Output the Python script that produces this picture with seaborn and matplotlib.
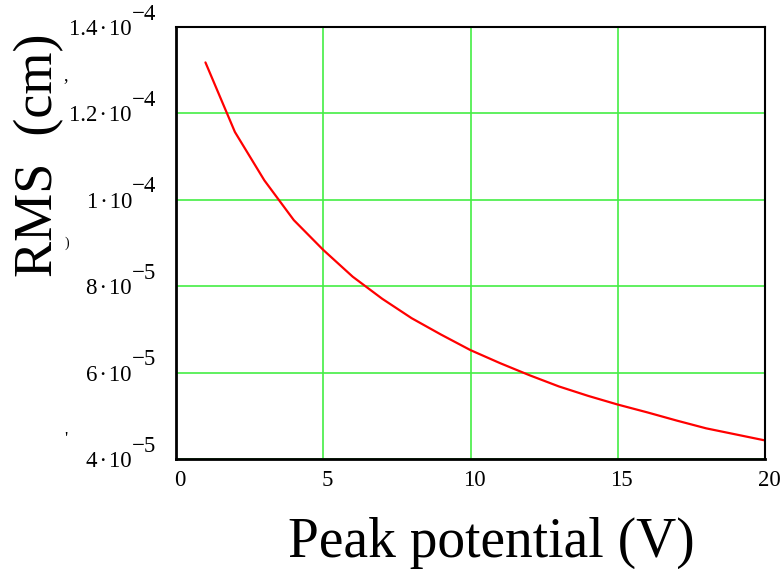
import numpy as np
import pandas as pd
import matplotlib
matplotlib.use("Agg")
import matplotlib.pyplot as plt
import matplotlib.transforms as mtransforms
import seaborn as sns

# ---- data ----
peak_potential = [1, 2, 3, 4, 5, 6, 7, 8, 9, 10,
                  11, 12, 13, 14, 15, 16, 17, 18, 19, 20]
rms_cm = [1.318e-4, 1.157e-4, 1.045e-4, 0.953e-4, 0.884e-4, 0.822e-4,
          0.771e-4, 0.726e-4, 0.688e-4, 0.652e-4, 0.622e-4, 0.594e-4,
          0.568e-4, 0.546e-4, 0.526e-4, 0.508e-4, 0.489e-4, 0.471e-4,
          0.457e-4, 0.443e-4]
x_ticks = [0, 5, 10, 15, 20]
x_tick_labels = ["0", "5", "10", "15", "20"]
y_ticks = [4e-5, 6e-5, 8e-5, 1e-4, 1.2e-4, 1.4e-4]
y_tick_mantissas = ["4", "6", "8", "1", "1.2", "1.4"]
y_tick_exponents = ["\u22125", "\u22125", "\u22125", "\u22124", "\u22124", "\u22124"]
x_label = "Peak potential (V)"
y_label = "RMS  (cm)"

df = pd.DataFrame({"x": peak_potential, "y": rms_cm})

sns.set_style("white")
plt.rcParams["font.family"] = ["Liberation Serif", "DejaVu Serif"]
plt.rcParams["text.color"] = "black"
plt.rcParams["xtick.color"] = "black"
plt.rcParams["ytick.color"] = "black"

W, H = 781, 569
fig = plt.figure(figsize=(W / 100, H / 100), dpi=100)
ax = fig.add_axes([176 / W, 1 - 459 / H, (765 - 176) / W, (459 - 27) / H])

sns.lineplot(data=df, x="x", y="y", color="#ff0000", linewidth=1.6, ax=ax)

TICK_FS = 16.5
ax.set_xlim(0, 20)
ax.set_ylim(4e-5, 1.4e-4)
ax.set_xticks(x_ticks)
ax.set_xticklabels(x_tick_labels)
ax.set_yticks(y_ticks)
ax.set_yticklabels([m + "\u200a\u00b7\u200a10" for m in y_tick_mantissas])
ax.grid(True, color="#44ee44", linewidth=1.2)
ax.set_axisbelow(True)
ax.tick_params(axis="both", length=0, labelsize=TICK_FS, colors="black")
ax.tick_params(axis="x", pad=8)
ax.tick_params(axis="y", pad=31.7)
ax.set_xlabel("")
ax.set_ylabel("")
for side, sp in ax.spines.items():
    sp.set_visible(True)
    sp.set_color("black")
    sp.set_linewidth(2.0 if side in ("left", "bottom") else 1.5)
    sp.set_zorder(5)

# shift x tick labels slightly to the right, as in the reference
shift = mtransforms.ScaledTranslation(4 / 100, 0, fig.dpi_scale_trans)
for lab in ax.get_xticklabels():
    lab.set_transform(lab.get_transform() + shift)

# exponents of the y tick labels (full size, raised)
exp_trans = ax.get_yaxis_transform() + mtransforms.ScaledTranslation(
    0, 15.5 / 100, fig.dpi_scale_trans)
x_exp = (132 - 176) / (765 - 176)
for yv, e in zip(y_ticks, y_tick_exponents):
    ax.text(x_exp, yv, e, transform=exp_trans, ha="left",
            va="center_baseline", fontsize=TICK_FS, clip_on=False)

fig.text(491 / W, 1 - 557 / H, x_label, ha="center", va="baseline",
         fontsize=40)
fig.text(52 / W, 1 - 155 / H, y_label, ha="center", va="baseline",
         rotation=90, rotation_mode="anchor", fontsize=39)

# small stray marks visible in the reference
fig.text(66 / W, 1 - 76 / H, ",", ha="center", va="center", fontsize=13)
fig.text(67 / W, 1 - 243 / H, ")", ha="center", va="center", fontsize=10)
fig.text(66 / W, 1 - 441 / H, "'", ha="center", va="center", fontsize=13)

fig.savefig("out.png", dpi=100)
